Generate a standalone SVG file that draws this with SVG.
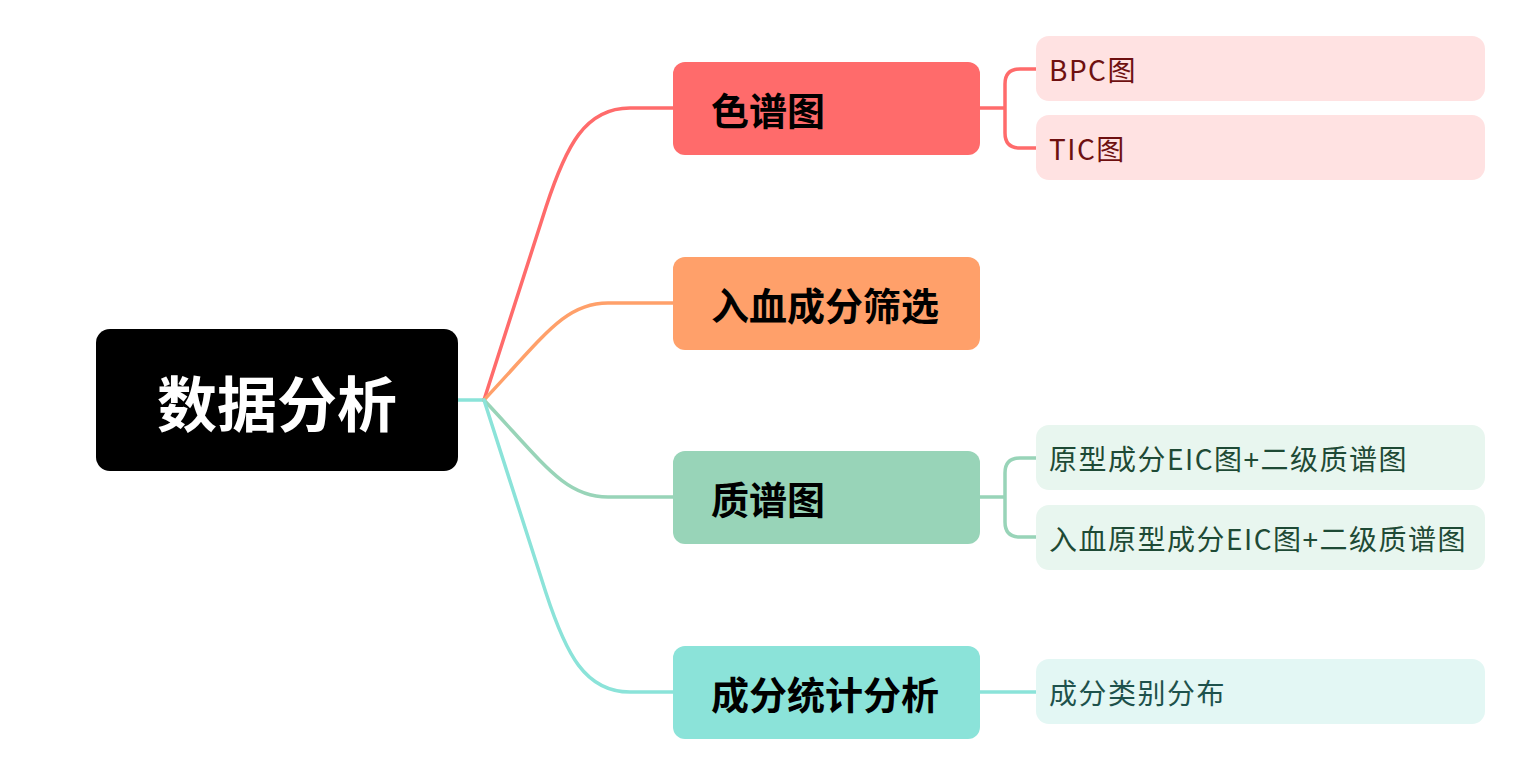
<svg xmlns="http://www.w3.org/2000/svg" width="1539" height="780" viewBox="0 0 1539 780">
<style>
.c{fill:none;stroke-width:3.5;stroke-linecap:round;stroke-linejoin:round}
.t1{font-family:"Noto Sans CJK SC","Noto Sans",sans-serif;font-weight:700;font-size:38px;fill:#000}
.t2{font-family:"Noto Sans CJK SC","Noto Sans",sans-serif;font-size:28px;letter-spacing:1.5px}
</style>
<rect width="1539" height="780" fill="#fff"/>
<g id="connectors">
<path class="c" stroke="#8BE3D9" d="M458 400H484"/>
<path class="c" stroke="#FF6B6B" d="M484 400L546 207C566 146 585 108 630 108H673"/>
<path class="c" stroke="#FFA06A" d="M484 400C545 335 565 303 608 303H673"/>
<path class="c" stroke="#98D4B8" d="M484 400C545 465 565 497 608 497H673"/>
<path class="c" stroke="#8BE3D9" d="M484 400L546 593C566 654 585 692 630 692H673"/>
<path class="c" stroke="#FF6B6B" d="M980 108H1005M1005 108V84Q1005 69 1020 69H1036M1005 108V133Q1005 148 1020 148H1036"/>
<path class="c" stroke="#98D4B8" d="M980 497H1005M1005 497V473Q1005 458 1020 458H1036M1005 497V522Q1005 537 1020 537H1036"/>
<path class="c" stroke="#8BE3D9" d="M980 692H1036"/>
</g>
<g id="root">
<rect x="96" y="329" width="362" height="142" rx="14" fill="#000"/>
<text x="277" y="400" text-anchor="middle" dominant-baseline="central" font-family="'Noto Sans CJK SC','Noto Sans',sans-serif" font-weight="700" font-size="60" fill="#fff">数据分析</text>
</g>
<g id="n1">
<rect x="673" y="62" width="307" height="93" rx="12" fill="#FF6B6B"/>
<text class="t1" x="711" y="108" dominant-baseline="central">色谱图</text>
</g>
<g id="n2">
<rect x="673" y="257" width="307" height="93" rx="12" fill="#FFA06A"/>
<text class="t1" x="711" y="303" dominant-baseline="central">入血成分筛选</text>
</g>
<g id="n3">
<rect x="673" y="451" width="307" height="93" rx="12" fill="#98D4B8"/>
<text class="t1" x="711" y="497" dominant-baseline="central">质谱图</text>
</g>
<g id="n4">
<rect x="673" y="646" width="307" height="93" rx="12" fill="#8BE3D9"/>
<text class="t1" x="711" y="692" dominant-baseline="central">成分统计分析</text>
</g>
<g id="l1">
<rect x="1036" y="36" width="449" height="65" rx="13" fill="#FFE2E2"/>
<text class="t2" x="1049" y="69" dominant-baseline="central" fill="#6E1010">BPC图</text>
</g>
<g id="l2">
<rect x="1036" y="115" width="449" height="65" rx="13" fill="#FFE2E2"/>
<text class="t2" x="1049" y="148" dominant-baseline="central" fill="#6E1010">TIC图</text>
</g>
<g id="l3">
<rect x="1036" y="425" width="449" height="65" rx="13" fill="#E8F6EF"/>
<text class="t2" x="1049" y="458" dominant-baseline="central" fill="#1E4A35">原型成分EIC图+二级质谱图</text>
</g>
<g id="l4">
<rect x="1036" y="505" width="449" height="65" rx="13" fill="#E8F6EF"/>
<text class="t2" x="1049" y="538" dominant-baseline="central" fill="#1E4A35">入血原型成分EIC图+二级质谱图</text>
</g>
<g id="l5">
<rect x="1036" y="659" width="449" height="65" rx="13" fill="#E3F7F4"/>
<text class="t2" x="1049" y="692" dominant-baseline="central" fill="#1E524C">成分类别分布</text>
</g>
</svg>
